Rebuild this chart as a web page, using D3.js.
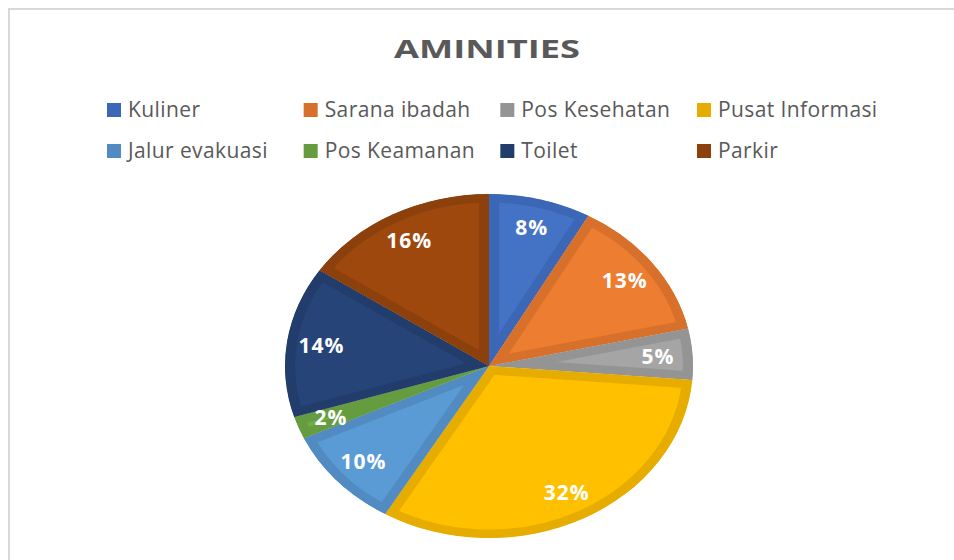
<!DOCTYPE html>
<html>
<head>
<meta charset="utf-8">
<script src="https://cdn.jsdelivr.net/npm/d3@7"></script>
<style>
  body { margin: 0; background: #fff; }
  text { font-family: "Open Sans", "DejaVu Sans", sans-serif; }
</style>
</head>
<body>
<svg id="vis" width="954" height="560"></svg>
<script>
var categories = ["Kuliner", "Sarana ibadah", "Pos Kesehatan", "Pusat Informasi",
                  "Jalur evakuasi", "Pos Keamanan", "Toilet", "Parkir"];
var values = [8.1, 13.4, 4.8, 32.2, 9.6, 2.1, 14.2, 15.6];
var fills = ["#4472C4", "#ED7D31", "#A5A5A5", "#FFC000", "#5B9BD5", "#70AD47", "#264478", "#9E480E"];
var borders = ["#3C67B6", "#D7702B", "#949494", "#E6AD00", "#518BC1", "#659C40", "#223D6C", "#8C400C"];
var title = "AMINITIES";

var svg = d3.select("#vis"),
    width = +svg.attr("width"),
    height = +svg.attr("height");

// chart frame (only top and left edges show)
svg.append("rect")
    .attr("x", 9).attr("y", 9)
    .attr("width", width + 10).attr("height", height + 10)
    .attr("fill", "#fff")
    .attr("stroke", "#d9d9d9")
    .attr("stroke-width", 2);

svg.append("text")
    .attr("x", 487).attr("y", 58)
    .attr("text-anchor", "middle")
    .attr("font-size", 25)
    .attr("font-weight", "bold")
    .attr("textLength", 186)
    .attr("lengthAdjust", "spacingAndGlyphs")
    .attr("fill", "#595959")
    .text(title);

// legend: 4 columns, 2 rows
var colX = d3.scaleLinear().domain([0, 3]).range([107, 697]);
var rowY = d3.scaleLinear().domain([0, 1]).range([110, 151]);

var legend = svg.append("g").selectAll("g")
    .data(categories)
    .enter().append("g")
      .attr("transform", function(d, i) {
        return "translate(" + colX(i % 4) + "," + rowY(Math.floor(i / 4)) + ")";
      });

legend.append("rect")
    .attr("x", 0).attr("y", -7)
    .attr("width", 14).attr("height", 14)
    .attr("fill", function(d, i) { return borders[i]; });

legend.append("text")
    .attr("x", 21).attr("y", 7)
    .attr("font-size", 21)
    .attr("letter-spacing", 0.4)
    .attr("fill", "#595959")
    .text(function(d) { return d; });

// pie, stretched horizontally like the reference
var cx = 489, cy = 366, r = 172, sx = 1.186;

var pie = d3.pie().sort(null).value(function(d) { return d; });
var arcs = pie(values);
var arc = d3.arc().innerRadius(0).outerRadius(r);
var labelArc = d3.arc().innerRadius(r * 0.83).outerRadius(r * 0.83);

var g = svg.append("g")
    .attr("transform", "translate(" + cx + "," + cy + ") scale(" + sx + ",1)");

var defs = svg.append("defs");
defs.selectAll("clipPath")
    .data(arcs)
    .enter().append("clipPath")
      .attr("id", function(d, i) { return "clip" + i; })
    .append("path")
      .attr("d", arc);

g.selectAll("path.slice")
    .data(arcs)
    .enter().append("path")
      .attr("class", "slice")
      .attr("d", arc)
      .attr("clip-path", function(d, i) { return "url(#clip" + i + ")"; })
      .attr("fill", function(d, i) { return fills[i]; })
      .attr("stroke", function(d, i) { return borders[i]; })
      .attr("stroke-width", 17)
      .attr("stroke-linejoin", "round");

svg.append("g").selectAll("text")
    .data(arcs)
    .enter().append("text")
      .attr("transform", function(d) {
        var c = labelArc.centroid(d);
        return "translate(" + (cx + c[0] * sx) + "," + (cy + c[1]) + ")";
      })
      .attr("text-anchor", "middle")
      .attr("dy", "0.36em")
      .attr("font-size", 21)
      .attr("font-weight", "bold")
      .attr("letter-spacing", 1)
      .attr("fill", "#fff")
      .text(function(d) { return Math.round(d.data) + "%"; });
</script>
</body>
</html>
